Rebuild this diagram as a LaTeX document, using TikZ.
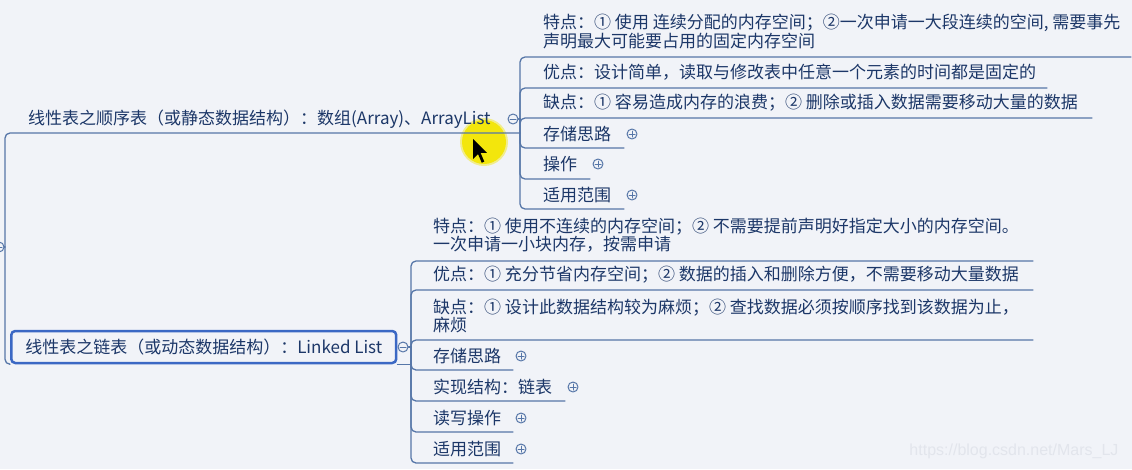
\documentclass[tikz,border=0pt]{standalone}
\usepackage{fontspec}
\setmainfont{Noto Sans CJK SC}
\newfontfamily\wmfont{Liberation Sans}
\usetikzlibrary{positioning}
\definecolor{bgc}{HTML}{F1F3F8}
\definecolor{txt}{HTML}{1C3768}
\definecolor{lnc}{HTML}{5676A8}
\definecolor{boxc}{HTML}{3B68C4}
\definecolor{hl}{HTML}{F3E60C}
\definecolor{wm}{HTML}{E2E5EC}
\begin{document}
\begin{tikzpicture}[x=1pt, y=-1pt, font=\fontsize{17}{18.5}\selectfont, line join=round, line cap=round]
	\def\W{1132} \def\H{469}
	\tikzset{branch/.style={draw=lnc, line width=1.3pt, rounded corners=5pt},
		leaf/.style={text=txt, anchor=west, inner sep=0pt, align=left},
		rootbox/.style={text=txt, anchor=west, draw=boxc, line width=2.5pt, rounded corners=4pt, minimum height=32pt, inner xsep=14pt},
		fold/.style={circle, draw=lnc, line width=1pt, fill=bgc, minimum size=10pt, inner sep=0pt,
			path picture={\draw[lnc, line width=1pt] ([xshift=-3pt]path picture bounding box.center) -- ([xshift=3pt]path picture bounding box.center);}},
		unfold/.style={circle, draw=lnc, line width=1pt, fill=bgc, minimum size=10pt, inner sep=0pt,
			path picture={\draw[lnc, line width=1pt] ([xshift=-3pt]path picture bounding box.center) -- ([xshift=3pt]path picture bounding box.center) ([yshift=-3pt]path picture bounding box.center) -- ([yshift=3pt]path picture bounding box.center);}}}
	\useasboundingbox (0,0) rectangle (\W,\H);
	\fill[bgc] (0,0) rectangle (\W,\H);
	% highlight of the mouse
	\fill[hl, opacity=0.45] (484,142) circle (24);
	\fill[hl] (484,142) circle (22);
	% root
	\coordinate (hr) at (5,247);
	\node[fold] (fr) at (-1,247) {};
	\draw[branch] (fr) -- (hr);
	\node[leaf] (A) at (28,119) {线性表之顺序表（或静态数据结构）：数组(Array)、ArrayList};
	\coordinate (Ae) at (520,133);
	\draw[branch] (hr) |- (Ae);
	\node[rootbox] (B) at (10,347) {线性表之链表（或动态数据结构）：Linked List};
	\coordinate (hb) at (411,347);
	\draw[branch] (hr) |- (B.south west);
	\draw[branch] (B.south east) -- (B.south east -| hb);
	% sequential list
	\coordinate (ha) at (520,119);
	\node[fold] (fa) at (513,119) {};
	\draw[branch] (fa) -- (ha);
	\foreach \nm/\y/\ln/\ex/\txt in {a1/31.5/57/1131/{特点：① 使用 连续分配的内存空间；②一次申请一大段连续的空间, 需要事先\\声明最大可能要占用的固定内存空间}, a2/72/88/1047/{优点：设计简单，读取与修改表中任意一个元素的时间都是固定的}, a3/103/118/1092/{缺点：① 容易造成内存的浪费；② 删除或插入数据需要移动大量的数据}}
	{
		\node[leaf] (\nm) at (543,\y) {\txt};
		\coordinate (\nm e) at (\ex,\ln);
		\draw[branch] (ha) |- (\nm e);
	}
	\foreach \nm/\y/\ln/\ex/\txt in {a4/134/148/624/存储思路, a5/164/179/590/操作, a6/195/209/624/适用范围}
	{
		\node[leaf] (\nm) at (543,\y) {\txt};
		\coordinate (\nm e) at (\ex,\ln);
		\draw[branch] (ha) |- (\nm e);
		\node[unfold] (\nm p) at ({\ex+8},\y) {};
	}
	% linked list
	\node[fold] (fb) at (403,347) {};
	\draw[branch] (fb) -- (hb);
	\foreach \nm/\y/\ln/\ex/\txt in {b1/235/261/1033/{特点：① 使用不连续的内存空间；② 不需要提前声明好指定大小的内存空间。\\一次申请一小块内存，按需申请}, b2/275/290/1033/{优点：① 充分节省内存空间；② 数据的插入和删除方便，不需要移动大量数据}, b3/316/340/1033/{缺点：① 设计此数据结构较为麻烦；② 查找数据必须按顺序找到该数据为止，\\麻烦}}
	{
		\node[leaf] (\nm) at (433,\y) {\txt};
		\coordinate (\nm e) at (\ex,\ln);
		\draw[branch] (hb) |- (\nm e);
	}
	\foreach \nm/\y/\ln/\ex/\txt in {b4/356/370/513/存储思路, b5/387/401/565/实现结构：链表, b6/418/432/513/读写操作, b7/449/463/513/适用范围}
	{
		\node[leaf] (\nm) at (433,\y) {\txt};
		\coordinate (\nm e) at (\ex,\ln);
		\draw[branch] (hb) |- (\nm e);
		\node[unfold] (\nm p) at ({\ex+8},\y) {};
	}
	% mouse pointer
	\fill[black, shift={(473,139)}, scale=1.25] (0,0) -- (0,16) -- (4,12) -- (7,19) -- (9,18) -- (6,11) -- (11,11) -- cycle;
	\node[anchor=east, text=wm, font=\wmfont\fontsize{16}{16}\selectfont] (wm) at (1122,451) {https://blog.csdn.net/Mars\_LJ};
\end{tikzpicture}
\end{document}
